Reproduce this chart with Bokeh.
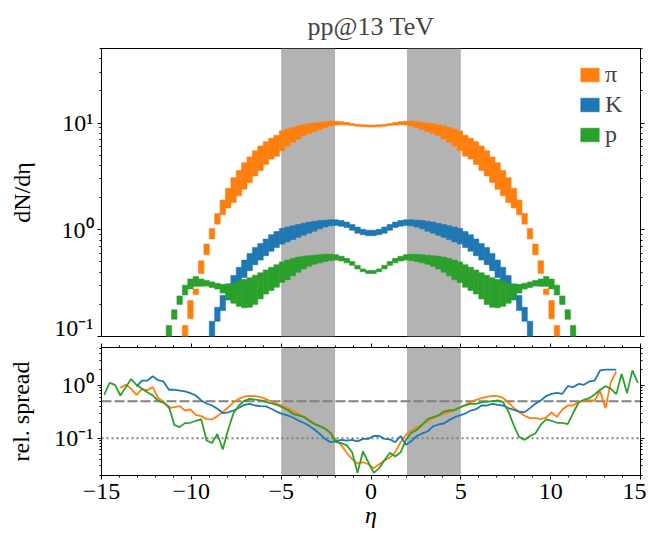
import numpy as np
from bokeh.plotting import figure
from bokeh.layouts import column
from bokeh.models import (FixedTicker, LogAxis, LinearAxis, BoxAnnotation, Span,
                          CustomJSTickFormatter, Legend, LegendItem, Range1d)
from bokeh.embed import file_html
from bokeh.resources import INLINE

N = float("nan")

# ---------------- data ----------------
eta_edges = np.round(np.linspace(-15, 15, 101), 2)      # 100 bins of width 0.3
eta_centers = (eta_edges[:-1] + eta_edges[1:]) / 2

species = ["π", "K", "p"]
colors = ["#ff7f0e", "#1f77b4", "#2ca02c"]
shaded = [(-5, -2), (2, 5)]

pi_lo = [N] * 15 + [0.085, 0.147, 0.247, 0.39, 0.583, 0.82, 1.13, 1.38, 1.6, 1.8,
                    2.08, 2.4, 2.77, 3.2, 3.6, 4.1, 4.6, 4.9, 5.5, 6.1,
                    6.6, 7.1, 7.6, 8.0, 8.35, 8.7, 9.1, 9.4, 9.6, 9.65,
                    9.6, 9.5, 9.35, 9.25, 9.2,
                    9.2, 9.25, 9.35, 9.5, 9.6, 9.65, 9.6, 9.4, 9.1, 8.7,
                    8.35, 8.0, 7.6, 7.1, 6.6, 6.1, 5.5, 4.9, 4.6, 4.1,
                    3.6, 3.2, 2.77, 2.4, 2.08, 1.8, 1.6, 1.38, 1.13, 0.82,
                    0.583, 0.39, 0.247, 0.147, 0.085] + [N] * 15
pi_hi = [N] * 15 + [0.127, 0.217, 0.279, 0.513, 0.735, 1.03, 1.42, 1.9, 2.45, 3.08,
                    3.6, 4.25, 4.8, 5.5, 6.1, 6.7, 7.2, 7.7, 8.45, 8.8,
                    9.1, 9.4, 9.65, 9.85, 10.0, 10.15, 10.3, 10.4, 10.4, 10.3,
                    10.1, 9.9, 9.75, 9.65, 9.6,
                    9.6, 9.65, 9.75, 9.9, 10.1, 10.3, 10.4, 10.4, 10.3, 10.15,
                    10.0, 9.85, 9.65, 9.4, 9.1, 8.8, 8.45, 7.7, 7.2, 6.7,
                    6.1, 5.5, 4.8, 4.25, 3.6, 3.08, 2.45, 1.9, 1.42, 1.03,
                    0.735, 0.513, 0.279, 0.217, 0.127] + [N] * 15

k_lo = [N] * 20 + [0.095, 0.139, 0.175, 0.22, 0.254, 0.311, 0.358, 0.414, 0.471, 0.52,
                   0.571, 0.63, 0.684, 0.735, 0.77, 0.81, 0.85, 0.89, 0.93, 0.97,
                   1.02, 1.06, 1.09, 1.1, 1.08, 1.05, 0.99, 0.93, 0.9, 0.88,
                   0.88, 0.9, 0.93, 0.99, 1.05, 1.08, 1.1, 1.09, 1.06, 1.02,
                   0.97, 0.93, 0.89, 0.85, 0.81, 0.77, 0.735, 0.684, 0.63, 0.571,
                   0.52, 0.471, 0.414, 0.358, 0.311, 0.254, 0.22, 0.175, 0.139, 0.095] + [N] * 20
k_hi = [N] * 20 + [0.139, 0.188, 0.242, 0.311, 0.372, 0.445, 0.52, 0.60, 0.684, 0.745,
                   0.82, 0.90, 0.964, 1.03, 1.06, 1.09, 1.12, 1.15, 1.18, 1.2,
                   1.22, 1.23, 1.24, 1.24, 1.22, 1.18, 1.12, 1.06, 1.01, 0.99,
                   0.99, 1.01, 1.06, 1.12, 1.18, 1.22, 1.24, 1.24, 1.23, 1.22,
                   1.2, 1.18, 1.15, 1.12, 1.09, 1.06, 1.03, 0.964, 0.90, 0.82,
                   0.745, 0.684, 0.60, 0.52, 0.445, 0.372, 0.311, 0.242, 0.188, 0.139] + [N] * 20

p_lo = [N] * 12 + [0.095, 0.145, 0.2, 0.245, 0.279, 0.295, 0.295, 0.297, 0.288, 0.278,
                   0.255, 0.228, 0.205, 0.192, 0.186, 0.188, 0.2, 0.225, 0.25, 0.27,
                   0.29, 0.32, 0.34, 0.37, 0.40, 0.43, 0.455, 0.475, 0.49, 0.505,
                   0.515, 0.52, 0.51, 0.49, 0.465, 0.43, 0.405, 0.39,
                   0.39, 0.405, 0.43, 0.465, 0.49, 0.51, 0.52, 0.515, 0.505, 0.49,
                   0.475, 0.455, 0.43, 0.40, 0.37, 0.34, 0.32, 0.29, 0.27, 0.25,
                   0.225, 0.2, 0.188, 0.186, 0.192, 0.205, 0.228, 0.255, 0.278, 0.288,
                   0.297, 0.295, 0.295, 0.279, 0.245, 0.2, 0.145, 0.095] + [N] * 12
p_hi = [N] * 12 + [0.127, 0.178, 0.24, 0.303, 0.346, 0.365, 0.346, 0.335, 0.325, 0.315,
                   0.308, 0.31, 0.315, 0.33, 0.342, 0.355, 0.375, 0.395, 0.42, 0.445,
                   0.47, 0.50, 0.52, 0.54, 0.555, 0.565, 0.572, 0.578, 0.585, 0.59,
                   0.59, 0.585, 0.565, 0.54, 0.505, 0.465, 0.43, 0.415,
                   0.415, 0.43, 0.465, 0.505, 0.54, 0.565, 0.585, 0.59, 0.59, 0.585,
                   0.578, 0.572, 0.565, 0.555, 0.54, 0.52, 0.50, 0.47, 0.445, 0.42,
                   0.395, 0.375, 0.355, 0.342, 0.33, 0.315, 0.31, 0.308, 0.315, 0.325,
                   0.335, 0.346, 0.365, 0.346, 0.303, 0.24, 0.178, 0.127] + [N] * 12

spread_pi = [N] * 3 + [0.9, 1.03, 0.865, 0.665, 0.85, 0.815, 0.93, 0.575, 0.497, 0.372,
                       0.388, 0.405, 0.335, 0.35, 0.277, 0.262, 0.23, 0.227, 0.262, 0.316,
                       0.383, 0.476, 0.558, 0.618, 0.636, 0.627, 0.60, 0.55, 0.497, 0.455,
                       0.417, 0.372, 0.33, 0.286, 0.254, 0.227, 0.19, 0.17, 0.149, 0.127,
                       0.093, 0.073, 0.053, 0.04, 0.033, 0.035, 0.032,
                       0.027, 0.032, 0.038, 0.043, 0.054, 0.084, 0.116, 0.14, 0.162, 0.18,
                       0.207, 0.236, 0.266, 0.29, 0.312, 0.335, 0.383, 0.43, 0.483, 0.535,
                       0.575, 0.61, 0.636, 0.627, 0.583, 0.47, 0.377, 0.312, 0.266, 0.24,
                       0.24, 0.23, 0.247, 0.308, 0.254, 0.35, 0.417, 0.417, 0.49, 0.51,
                       0.519, 0.519, 0.79, 0.372, 1.157, 1.84] + [N] * 4
spread_k = [N] * 6 + [0.95, 1.24, 1.24, 1.5, 1.26, 1.19, 0.83, 0.83, 0.80, 0.77,
                      0.715, 0.646, 0.52, 0.455, 0.417, 0.361, 0.30, 0.31, 0.335, 0.377,
                      0.43, 0.449, 0.417, 0.405, 0.40, 0.361, 0.32, 0.29, 0.27, 0.247,
                      0.217, 0.196, 0.172, 0.146, 0.12, 0.097, 0.084, 0.088, 0.093, 0.09,
                      0.093, 0.087, 0.097, 0.097,
                      0.11, 0.11, 0.097, 0.095, 0.084, 0.11, 0.075, 0.088, 0.11, 0.123,
                      0.134, 0.167, 0.182, 0.19, 0.22, 0.25, 0.27, 0.294, 0.335, 0.355,
                      0.417, 0.417, 0.449, 0.43, 0.417, 0.372, 0.345, 0.32, 0.312, 0.372,
                      0.449, 0.519, 0.63, 0.695, 0.725, 0.695, 0.97, 0.93, 1.07, 1.03,
                      1.19, 1.24, 1.93, 2.0, 2.0, 2.0] + [N] * 4
spread_p = [0.665, 1.12, 1.03, 0.646, 0.93, 1.32, 1.03, 0.865, 0.747, 0.646,
            0.512, 0.47, 0.40, 0.179, 0.162, 0.193, 0.196, 0.214, 0.23, 0.0905,
            0.081, 0.12, 0.061, 0.146, 0.30, 0.417, 0.512, 0.558, 0.54, 0.519,
            0.49, 0.455, 0.43, 0.388, 0.345, 0.29, 0.27, 0.254, 0.214, 0.185,
            0.17, 0.151, 0.125, 0.084, 0.081, 0.073, 0.054, 0.022, 0.056, 0.035,
            0.022, 0.027, 0.038, 0.053, 0.045, 0.054, 0.095, 0.127, 0.144, 0.18,
            0.23, 0.251, 0.27, 0.32, 0.335, 0.345, 0.383, 0.417, 0.449, 0.449,
            0.476, 0.49, 0.505, 0.519, 0.483, 0.32, 0.174, 0.105, 0.093, 0.11,
            0.123, 0.18, 0.227, 0.214, 0.196, 0.196, 0.185, 0.30, 0.47, 0.535,
            0.575, 0.675, 0.83, 0.97, 0.865, 0.685, 1.66, 0.715, 1.93, 1.12]

top_major = [0.1, 1, 10]
top_minor = [0.2, 0.3, 0.4, 0.5, 0.6, 0.7, 0.8, 0.9, 2, 3, 4, 5, 6, 7, 8, 9, 20, 30, 40, 50]
bot_major = [0.1, 1]
bot_minor = [0.02, 0.03, 0.04, 0.05, 0.06, 0.07, 0.08, 0.09,
             0.2, 0.3, 0.4, 0.5, 0.6, 0.7, 0.8, 0.9, 2, 3, 4, 5]
x_major = [-15, -10, -5, 0, 5, 10, 15]
x_minor = list(range(-15, 16))
ref_levels = [(0.5, "10 3"), (0.1, "2 3")]

# ---------------- styling helpers ----------------
FONT = "Liberation Serif"
FS = "24px"

log_fmt = CustomJSTickFormatter(code="""
const e = Math.round(Math.log10(tick));
const m = {"-": "\\u207b", "0": "\\u2070", "1": "\\u00b9", "2": "\\u00b2", "3": "\\u00b3"};
let s = "";
for (const c of String(e)) { s += m[c]; }
return "10" + s;
""")
lin_fmt = CustomJSTickFormatter(code="""
return tick < 0 ? "\\u2212" + Math.abs(tick) : String(tick);
""")


def blank_fmt():
    return CustomJSTickFormatter(code="return '';")


def style_axis(ax, show_labels=True):
    ax.axis_line_color = "black"
    ax.major_tick_line_color = "black"
    ax.minor_tick_line_color = "black"
    ax.major_tick_in = 0
    ax.major_tick_out = 4
    ax.minor_tick_in = 0
    ax.minor_tick_out = 2
    ax.major_label_text_font = FONT
    ax.major_label_text_color = "black"
    ax.axis_label_text_font = FONT
    ax.axis_label_text_font_size = FS
    ax.axis_label_text_color = "black"
    if show_labels:
        ax.major_label_text_font_size = FS
        ax.major_label_standoff = 4
    else:
        ax.formatter = blank_fmt()
        ax.major_label_text_font_size = "2px"
        ax.major_label_text_alpha = 0
        ax.major_label_standoff = 0


def base_fig(height, yr, border_top, border_bottom, x_loc):
    f = figure(width=646, height=height, y_axis_type="log",
               x_range=Range1d(-15, 15), y_range=yr,
               x_axis_location=x_loc,
               output_backend="svg", toolbar_location=None,
               min_border_left=101, min_border_right=6,
               min_border_top=border_top, min_border_bottom=border_bottom)
    f.grid.visible = False
    f.outline_line_color = "black"
    f.outline_line_width = 1
    f.background_fill_color = "white"
    f.border_fill_color = "white"
    for a, b in shaded:
        f.add_layout(BoxAnnotation(left=a, right=b, fill_color="#b3b3b3", fill_alpha=1.0,
                                   line_color=None, level="underlay"))
    return f


# ---------------- top panel ----------------
top = base_fig(340, Range1d(0.1, 50), 48, 4, None)
top.title.text = "pp@13 TeV"
top.title.align = "center"
top.title.text_font = FONT
top.title.text_font_size = "26px"
top.title.text_font_style = "normal"
top.title.standoff = 16

ya = top.yaxis[0]
ya.ticker = FixedTicker(ticks=top_major, minor_ticks=top_minor)
ya.formatter = log_fmt
style_axis(ya)
ya.axis_label = "dN/dη"
ya.axis_label_text_font_style = "normal"
ya.axis_label_standoff = 16
ra = LogAxis(ticker=FixedTicker(ticks=top_major, minor_ticks=top_minor))
style_axis(ra, show_labels=False)
top.add_layout(ra, "right")

band_lo = [pi_lo, k_lo, p_lo]
band_hi = [pi_hi, k_hi, p_hi]
band_renderers = []
for lo, hi, c in zip(band_lo, band_hi, colors):
    r = top.quad(left=eta_edges[:-1], right=eta_edges[1:], bottom=lo, top=hi,
                 fill_color=c, fill_alpha=1.0, line_color=c, line_width=0.6)
    band_renderers.append(r)

legend = Legend(items=[LegendItem(label=s, renderers=[r]) for s, r in zip(species, band_renderers)],
                location=(477, 188), border_line_color=None, background_fill_alpha=0,
                label_text_font=FONT, label_text_font_size=FS,
                glyph_width=23, glyph_height=17, label_standoff=4,
                padding=4, spacing=2, label_height=28, margin=0)
top.add_layout(legend)

# ---------------- bottom panel ----------------
bot = base_fig(197, Range1d(0.0196, 5.25), 7, 62, "below")
bot.x_range = top.x_range

ba = bot.yaxis[0]
ba.ticker = FixedTicker(ticks=bot_major, minor_ticks=bot_minor)
ba.formatter = log_fmt
style_axis(ba)
ba.axis_label = "rel. spread"
ba.axis_label_text_font_style = "normal"
ba.axis_label_standoff = 17
bra = LogAxis(ticker=FixedTicker(ticks=bot_major, minor_ticks=bot_minor))
style_axis(bra, show_labels=False)
bot.add_layout(bra, "right")

bx = bot.xaxis[0]
bx.ticker = FixedTicker(ticks=x_major, minor_ticks=x_minor)
bx.formatter = lin_fmt
style_axis(bx)
bx.major_label_standoff = 4
bx.axis_label = "η"
bx.axis_label_text_font_style = "italic"
bx.axis_label_standoff = 0
tx = LinearAxis(ticker=FixedTicker(ticks=x_major, minor_ticks=x_minor))
style_axis(tx, show_labels=False)
bot.add_layout(tx, "above")

for lvl, dash in ref_levels:
    bot.add_layout(Span(location=lvl, dimension="width", line_color="#808080",
                        line_width=2, line_dash=dash, level="underlay"))

for s, c in zip([spread_pi, spread_k, spread_p], colors):
    bot.line(eta_centers, s, line_color=c, line_width=1.8)

layout = column(top, bot, spacing=0)
open("out.html", "w").write(file_html(layout, INLINE))
